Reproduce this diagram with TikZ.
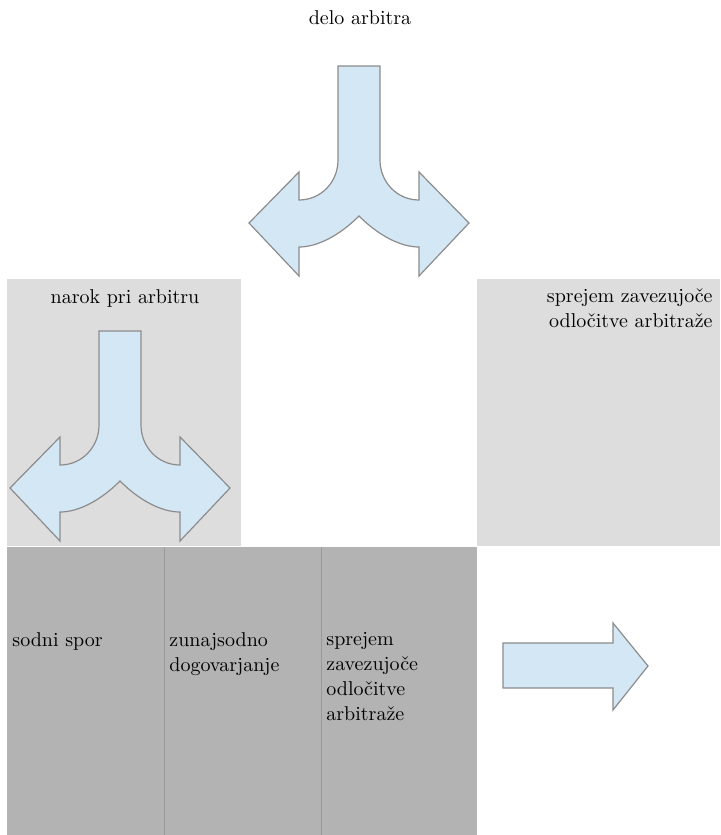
\documentclass[tikz,border=0pt]{standalone}
\usepackage{tikz}
\usepackage{color}

\definecolor{boxlight}{HTML}{DDDDDD}
\definecolor{boxdark}{HTML}{B3B3B3}
\definecolor{arrowfill}{HTML}{D3E7F5}
\definecolor{arrowedge}{HTML}{8C8C8C}

\tikzset{
    blockarrow/.style={fill=arrowfill, draw=arrowedge, line width=0.6pt, line join=miter},
    label/.style={inner sep=0pt, font=\fontsize{10}{12.5}\selectfont}
}

\begin{document}
\begin{tikzpicture}[x=0.5pt, y=-0.5pt]
            \useasboundingbox (0,0) rectangle (720,835);

            \path[fill=boxlight] (7,279) rectangle (241,546);
            \path[fill=boxlight] (477,279) rectangle (720,546);
            \path[fill=boxdark] (7,547) rectangle (477,835);
            \foreach \x in {164,321} \draw[gray!80, line width=0.4pt] (\x,547) -- (\x,835);

            \foreach \cx/\ty in {359/66, 120/331}
            \draw[blockarrow, shift={(\cx,\ty)}] (-21,0) -- (21,0) -- (21,94)
                .. controls (21,116) and (38,134) .. (60,134) -- (60,106) -- (110,157) -- (60,210) -- (60,181)
                .. controls (42,181) and (20,170) .. (0,150)
                .. controls (-20,170) and (-42,181) .. (-60,181) -- (-60,210) -- (-110,157) -- (-60,106) -- (-60,134)
                .. controls (-38,134) and (-21,116) .. (-21,94) -- cycle;

            \draw[blockarrow] (503,643) -- (613,643) -- (613,623) -- (648,666) -- (613,710) -- (613,688) -- (503,688) -- cycle;

            \node[label] (delo) at (360,18) {delo arbitra};
            \node[label] (narok) at (125,298) {narok pri arbitru};
            \node[label, align=right, anchor=north east] (sprejemtop) at (713,288) {sprejem zavezujoče\\odločitve arbitraže};

            \node[label, align=left, anchor=north west] (sodni) at (12,632) {sodni spor};
            \node[label, align=left, anchor=north west] (zunaj) at (169,632) {zunajsodno\\dogovarjanje};
            \node[label, align=left, anchor=north west] (sprejem) at (326,632) {sprejem\\zavezujoče\\odločitve\\arbitraže};

\end{tikzpicture}
\end{document}
